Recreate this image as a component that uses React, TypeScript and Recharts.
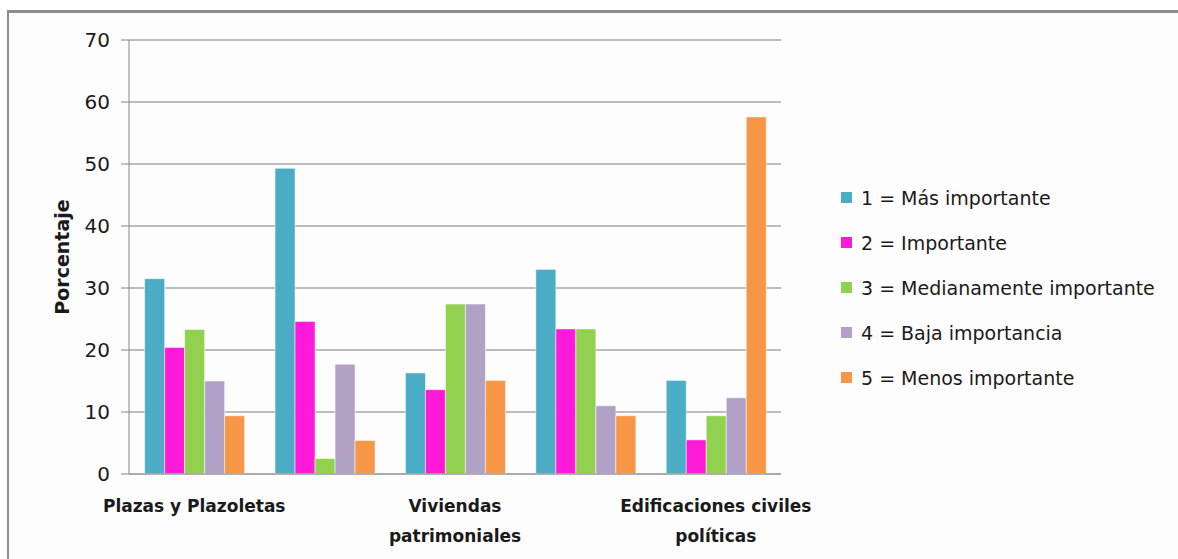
import { BarChart, Bar, XAxis, YAxis, CartesianGrid, Legend } from "recharts";

// Category names: Excel skips every other label, so the hidden ones stay blank
const categories = ["Plazas y Plazoletas", "", "Viviendas patrimoniales", "", "Edificaciones civiles políticas"];
const categoryLines = [["Plazas y Plazoletas"], [], ["Viviendas", "patrimoniales"], [], ["Edificaciones civiles", "políticas"]];

const masImportante = [31.5, 49.3, 16.3, 33.0, 15.1];
const importante = [20.4, 24.6, 13.6, 23.4, 5.5];
const medianamente = [23.3, 2.5, 27.4, 23.4, 9.4];
const bajaImportancia = [15.0, 17.7, 27.4, 11.0, 12.3];
const menosImportante = [9.4, 5.4, 15.1, 9.4, 57.6];

const yTicks = [0, 10, 20, 30, 40, 50, 60, 70];

const series = [
  { key: "s1", name: "1 = Más importante", color: "#4BACC6", values: masImportante },
  { key: "s2", name: "2 = Importante", color: "#FF19D9", values: importante },
  { key: "s3", name: "3 = Medianamente importante", color: "#92D050", values: medianamente },
  { key: "s4", name: "4 = Baja importancia", color: "#B2A1C7", values: bajaImportancia },
  { key: "s5", name: "5 = Menos importante", color: "#F79646", values: menosImportante },
];

const data = categories.map((name, i) => {
  const row: any = { name, idx: i };
  series.forEach((s) => {
    row[s.key] = s.values[i];
  });
  return row;
});

const FONT = "'DejaVu Sans', sans-serif";

const CategoryTick = ({ x, y, payload }: any) => {
  const lines = categoryLines[payload.index] || [];
  return (
    <g transform={`translate(${x},${y})`}>
      {lines.map((line, i) => (
        <text
          key={i}
          x={0}
          y={30 + i * 30}
          textAnchor="middle"
          fontFamily={FONT}
          fontWeight="bold"
          fontSize={17}
          fill="#1a1a1a"
        >
          {line}
        </text>
      ))}
    </g>
  );
};

const LegendBox = () => (
  <div style={{ fontFamily: FONT, fontSize: 19, color: "#1a1a1a" }}>
    {series.map((s) => (
      <div key={s.key} style={{ display: "flex", alignItems: "center", height: 45, whiteSpace: "nowrap" }}>
        <span style={{ width: 11, height: 11, background: s.color, marginRight: 9, display: "inline-block" }} />
        <span>{s.name}</span>
      </div>
    ))}
  </div>
);

export default function App() {
  return (
    <div style={{ position: "absolute", left: 0, top: 0, width: 1178, height: 559, background: "#fff", overflow: "hidden" }}>
      <div
        style={{
          position: "absolute",
          left: 7,
          top: 10,
          width: 1200,
          height: 600,
          background: "#fdfdfd",
          borderTop: "3px solid #8c8c8c",
          borderLeft: "2px solid #8c8c8c",
        }}
      />
      <div style={{ position: "absolute", left: 0, top: 0 }}>
        <BarChart
          width={1178}
          height={559}
          data={data}
          margin={{ top: 40, right: 397, bottom: 0, left: 0 }}
          barCategoryGap="12%"
          barGap={0}
        >
          <CartesianGrid vertical={false} stroke="#a6a6a6" strokeWidth={1.5} />
          <XAxis
            dataKey="idx"
            height={85}
            interval={0}
            tickLine={false}
            axisLine={{ stroke: "#a6a6a6", strokeWidth: 1.5 }}
            tick={<CategoryTick />}
          />
          <YAxis
            width={129}
            domain={[0, 70]}
            ticks={yTicks}
            tickSize={8}
            tickMargin={11}
            tickLine={{ stroke: "#868686" }}
            axisLine={{ stroke: "#868686" }}
            tick={{ fontFamily: FONT, fontSize: 20, fill: "#1a1a1a" }}
            label={{
              value: "Porcentaje",
              angle: -90,
              position: "insideLeft",
              dx: 57,
              style: { fontFamily: FONT, fontWeight: "bold", fontSize: 19, fill: "#1a1a1a", textAnchor: "middle" },
            }}
          />
          <Legend
            layout="vertical"
            align="center"
            verticalAlign="middle"
            content={<LegendBox />}
            wrapperStyle={{ position: "absolute", left: 841, top: 175, width: 330 }}
          />
          {series.map((s) => (
            <Bar
              key={s.key}
              dataKey={s.key}
              name={s.name}
              fill={s.color}
              stroke="#ffffff"
              strokeOpacity={0.5}
              strokeWidth={1}
              isAnimationActive={false}
            />
          ))}
        </BarChart>
      </div>
    </div>
  );
}
